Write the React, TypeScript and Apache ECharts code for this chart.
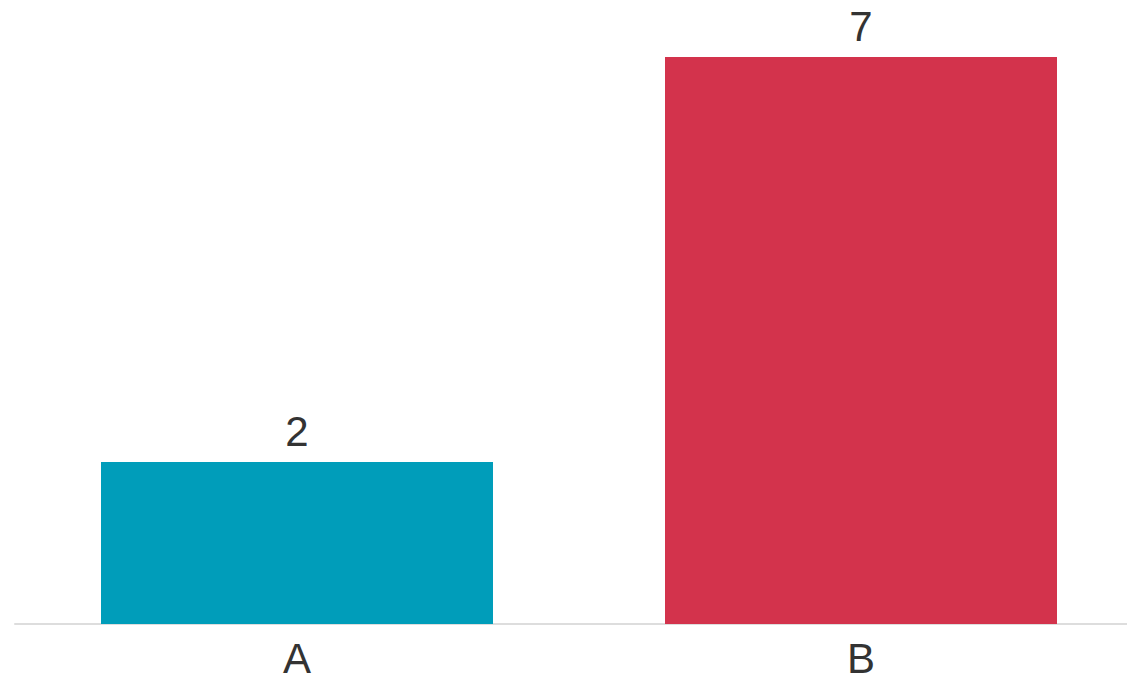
import React, { useEffect, useRef } from "react";
import * as echarts from "echarts";

const categories = ["A", "B"];
const values = [2, 7];
const colors = ["#009DBA", "#D3334C"];

export default function App() {
  const ref = useRef<HTMLDivElement>(null);
  useEffect(() => {
    document.body.style.margin = "0";
    document.body.style.overflow = "hidden";
    document.documentElement.style.overflow = "hidden";
    const chart = echarts.init(ref.current!, null, { renderer: "svg" });
    chart.setOption({
      animation: false,
      grid: { left: 15, right: 17, top: 57, bottom: 60, containLabel: false },
      xAxis: {
        type: "category",
        data: categories,
        axisLine: { show: true, lineStyle: { color: "#DDDDDD", width: 2 } },
        axisTick: { show: false },
        axisLabel: {
          color: "#333333",
          fontSize: 42,
          fontFamily: "Liberation Sans, Arial, sans-serif",
          margin: 13,
        },
      },
      yAxis: {
        type: "value",
        min: 0,
        max: 7,
        show: false,
        splitLine: { show: false },
      },
      series: [
        {
          type: "bar",
          barWidth: 392,
          data: values.map((v, i) => ({ value: v, itemStyle: { color: colors[i] } })),
          label: {
            show: true,
            position: "top",
            distance: 10,
            color: "#333333",
            fontSize: 42,
            fontFamily: "Liberation Sans, Arial, sans-serif",
          },
        },
      ],
    });
    return () => chart.dispose();
  }, []);
  return (
    <div style={{ width: 1127, height: 684, overflow: "hidden" }}>
      <div ref={ref} style={{ width: 1160, height: 684 }} />
    </div>
  );
}
